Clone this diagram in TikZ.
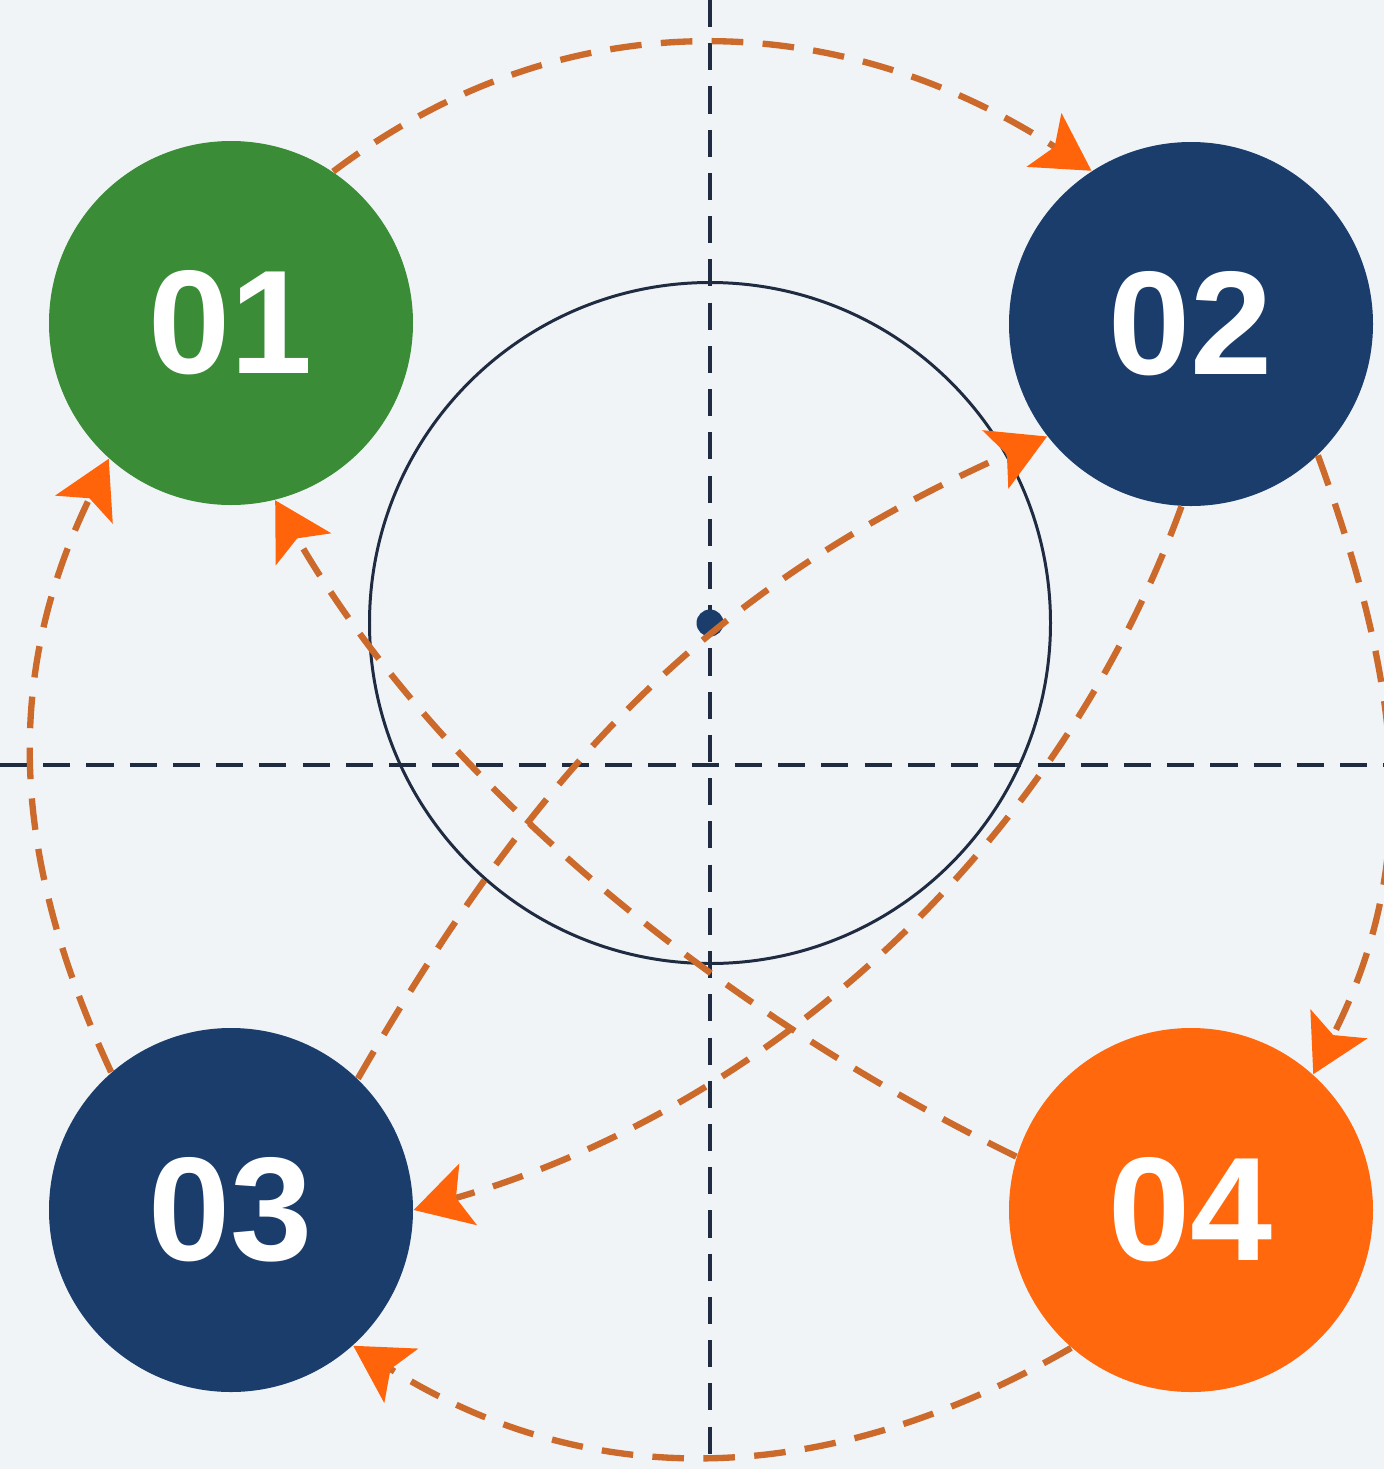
\documentclass[tikz,border=0pt]{standalone}
\usepackage{fontspec}
\setsansfont{Liberation Sans}
\usetikzlibrary{arrows.meta}
\definecolor{pagebg}{HTML}{F1F4F7}
\definecolor{discgreen}{HTML}{3A8C37}
\definecolor{discnavy}{HTML}{1A3D6C}
\definecolor{discorange}{HTML}{FF680C}
\definecolor{guideline}{HTML}{1E2B40}
\definecolor{flowline}{HTML}{CC6A2B}
\definecolor{flowtip}{HTML}{FF640A}
\tikzset{
  disc/.style={circle, minimum size=3.64cm, inner sep=0pt, text=white,
               font=\sffamily\bfseries\fontsize{42}{42}\selectfont},
  greendisc/.style={disc, fill=discgreen},
  navydisc/.style={disc, fill=discnavy},
  orangedisc/.style={disc, fill=discorange},
  ring/.style={circle, draw=guideline, line width=0.85pt, minimum size=6.81cm, inner sep=0pt},
  hub/.style={circle, fill=discnavy, minimum size=0.27cm, inner sep=0pt},
  guide/.style={draw=guideline, line width=1.2pt, dash pattern=on 7.7pt off 4.6pt},
  flow/.style={draw=flowline, line width=1.8pt, dash pattern=on 9pt off 5.5pt,
               -{Stealth[length=16pt, width=18pt, inset=3.5pt, color=flowtip]}},
}

\begin{document}
\begin{tikzpicture}
    \path[use as bounding box, fill=pagebg] (0,0) rectangle (13.84,-14.69);
    \draw[guide] (7.10,0) -- (7.10,-14.69);
    \draw[guide] (0,-7.65) -- (13.84,-7.65);
    \node[ring] (ring) at (7.10,-6.23) {};
    \node[hub] (hub) at (7.10,-6.23) {};
    \node[greendisc] (s1) at (2.31,-3.23) {01};
    \node[navydisc] (s2) at (11.91,-3.24) {02};
    \node[navydisc] (s3) at (2.31,-12.10) {03};
    \node[orangedisc] (s4) at (11.91,-12.10) {04};
    \draw[flow] (s1.56) to[out=37, in=147] (s2.123);
    \draw[flow] (s2.-46) to[out=-70, in=63] (s4.48);
    \draw[flow] (s4.229) to[out=-150, in=-32] (s3.-48);
    \draw[flow] (s3.131) to[out=115, in=-116] (s1.228);
    \draw[flow] (s3.46) to[out=60, in=204] (s2.218);
    \draw[flow] (s2.267) to[out=-110, in=16, looseness=0.9] (s3.0);
    \draw[flow] (s4.163) to[out=154, in=-60, looseness=0.85] (s1.-76);
\end{tikzpicture}
\end{document}
